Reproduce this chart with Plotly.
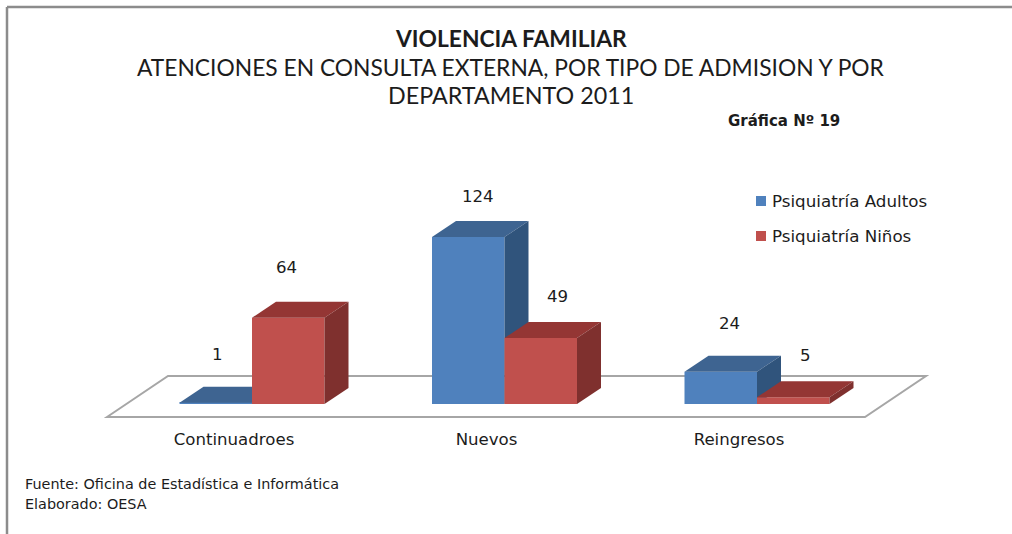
import plotly.graph_objects as go

categories = ["Continuadroes", "Nuevos", "Reingresos"]
adultos = [1, 124, 24]
ninos = [64, 49, 5]
series_names = ["Psiquiatría Adultos", "Psiquiatría Niños"]

W, H = 1012, 534
X0, PX_X = 252.0, 252.5      # pixel of category 0, pixels per category
Y0, PX_Y = 404.0, 1.347      # pixel of value 0, pixels per unit
AX_B = 425.0
BAR_W = 72.5 / PX_X
DX, DY = 24 / PX_X, 16 / PX_Y
FONT = "DejaVu Sans"
TXT = "#1c1c1c"
COLORS = ["#4F81BD", "#C0504D"]

def fx(p): return (p - X0) / PX_X
def fy(p): return (Y0 - p) / PX_Y
def py(p): return 1 - p / AX_B
def pxx(p): return p / W

xr = [fx(0), fx(W)]
yr = [fy(AX_B), fy(0)]

fig = go.Figure()

def add_series(vals, name, offset, front, top, side, xa, ya):
    fig.add_trace(go.Bar(x=list(range(len(vals))), y=vals, width=BAR_W, name=name,
                         offset=offset, marker=dict(color=front, line=dict(width=0)),
                         xaxis=xa, yaxis=ya, showlegend=False, hoverinfo="skip"))
    for i, v in enumerate(vals):
        l = i + offset
        r = l + BAR_W
        fig.add_trace(go.Scatter(x=[l, r, r + DX, l + DX, l], y=[v, v, v + DY, v + DY, v],
                                 fill="toself", fillcolor=top, mode="lines", line=dict(width=0),
                                 xaxis=xa, yaxis=ya, showlegend=False, hoverinfo="skip"))
        fig.add_trace(go.Scatter(x=[r, r + DX, r + DX, r, r], y=[0, DY, v + DY, v, 0],
                                 fill="toself", fillcolor=side, mode="lines", line=dict(width=0),
                                 xaxis=xa, yaxis=ya, showlegend=False, hoverinfo="skip"))

add_series(adultos, series_names[0], -BAR_W, COLORS[0], "#3E6491", "#30547C", "x", "y")
add_series(ninos, series_names[1], 0, COLORS[1], "#943634", "#7F302E", "x2", "y2")

# Floor of the 3-D chart
floor = [(107, 417), (168, 376), (926, 376), (865, 417)]
path = "M " + " L ".join(f"{fx(a)},{fy(b)}" for a, b in floor) + " Z"
shapes = [dict(type="path", path=path, xref="x", yref="y", layer="below",
               line=dict(color="#A6A6A6", width=2), fillcolor="white")]
# Frame
frame = dict(type="line", xref="paper", yref="paper", line=dict(color="#8C8C8C", width=2.5))
shapes.append({**frame, "x0": pxx(7), "x1": pxx(7), "y0": py(7), "y1": py(534)})
shapes.append({**frame, "x0": pxx(7), "x1": 1, "y0": py(7), "y1": py(7)})

annotations = []
def text(x, y, s, size, bold=False, anchor="center", font=FONT, color=TXT):
    annotations.append(dict(x=pxx(x), y=py(y), xref="paper", yref="paper", text=f"<b>{s}</b>" if bold else s,
                            showarrow=False, xanchor=anchor, yanchor="middle",
                            font=dict(family=font, size=size, color=color)))

text(511, 38, "VIOLENCIA FAMILIAR", 22.8, bold=True, font="Lato")
text(511, 67, "ATENCIONES EN CONSULTA EXTERNA, POR TIPO DE ADMISION Y POR", 22.8, font="Lato")
text(511, 95, "DEPARTAMENTO 2011", 23.3, font="Lato")
text(784, 121, "Gráfica Nº 19", 15, bold=True)
text(23, 484, "Fuente: Oficina de Estadística e Informática", 14.4, anchor="left")
text(23, 504, "Elaborado: OESA", 14.4, anchor="left")

# Legend, laid out as in the reference
for k, (name, yp) in enumerate(zip(series_names, (201, 236))):
    shapes.append(dict(type="rect", xref="paper", yref="paper", x0=pxx(756), x1=pxx(766),
                       y0=py(yp - 5), y1=py(yp + 5), fillcolor=COLORS[k], line=dict(width=0)))
    text(770, yp, name, 16.7, anchor="left")

# Data labels: hand-placed in the original, offsets relative to each bar's top
label_shift = {
    0: [(2, 48), (-2, 50)],
    1: [(10, 40), (17, 42)],
    2: [(9, 48), (12, 42)],
}
for i in range(len(categories)):
    for s, vals in enumerate((adultos, ninos)):
        dx, dy = label_shift[i][s]
        annotations.append(dict(x=i - BAR_W / 2 if s == 0 else i + BAR_W / 2, y=vals[i], xref="x", yref="y",
                                text=str(vals[i]), showarrow=False, xshift=dx, yshift=dy,
                                font=dict(family=FONT, size=16.6, color=TXT)))

axis_common = dict(range=xr, showgrid=False, zeroline=False, showline=False)
fig.update_layout(
    width=W, height=H, margin=dict(l=0, r=0, t=0, b=H - AX_B, pad=0),
    paper_bgcolor="white", plot_bgcolor="rgba(0,0,0,0)",
    xaxis=dict(**axis_common, tickmode="array", tickvals=[i - 18 / PX_X for i in range(len(categories))],
               ticktext=categories, ticks="", ticklabelstandoff=2,
               tickfont=dict(family=FONT, size=16.6, color=TXT)),
    yaxis=dict(range=yr, visible=False),
    xaxis2=dict(**axis_common, overlaying="x", visible=False),
    yaxis2=dict(range=yr, overlaying="y", visible=False),
    barmode="overlay",
    shapes=shapes, annotations=annotations, showlegend=False,
)
fig.write_html("out.html", post_script="document.body.style.margin='0';", config=dict(displayModeBar=False))
